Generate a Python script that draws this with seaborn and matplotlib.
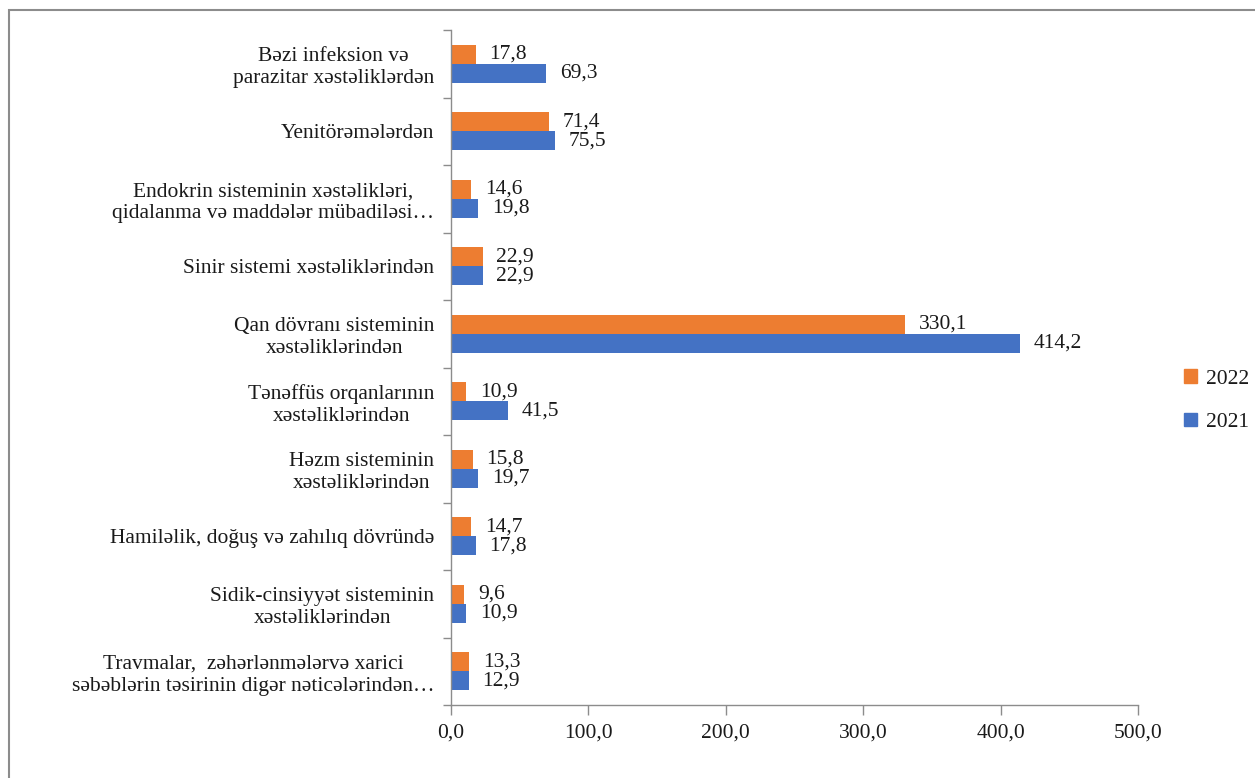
import matplotlib
matplotlib.use("Agg")
import matplotlib.pyplot as plt
import numpy as np
import pandas as pd
import seaborn as sns
from matplotlib.ticker import FuncFormatter, FixedLocator

CATEGORIES = [
    "Bəzi infeksion və\nparazitar xəstəliklərdən",
    "Yenitörəmələrdən",
    "Endokrin sisteminin xəstəlikləri,\nqidalanma və maddələr mübadiləsi…",
    "Sinir sistemi xəstəliklərindən",
    "Qan dövranı sisteminin\nxəstəliklərindən",
    "Tənəffüs orqanlarının\nxəstəliklərindən",
    "Həzm sisteminin\nxəstəliklərindən",
    "Hamiləlik, doğuş və zahılıq dövründə",
    "Sidik-cinsiyyət sisteminin\nxəstəliklərindən",
    "Travmalar,  zəhərlənmələrvə xarici\nsəbəblərin təsirinin digər nəticələrindən…",
]
VALUES_2022 = [17.8, 71.4, 14.6, 22.9, 330.1, 10.9, 15.8, 14.7, 9.6, 13.3]
VALUES_2021 = [69.3, 75.5, 19.8, 22.9, 414.2, 41.5, 19.7, 17.8, 10.9, 12.9]
YEARS = ["2022", "2021"]
COLORS = {"2022": "#ED7D31", "2021": "#4472C4"}
X_TICKS = [0, 100, 200, 300, 400, 500]

sns.set_theme(style="white")
plt.rcParams["font.family"] = ["Liberation Serif", "DejaVu Serif"]

df = pd.DataFrame({
    "category": CATEGORIES * 2,
    "year": ["2022"] * len(CATEGORIES) + ["2021"] * len(CATEGORIES),
    "value": VALUES_2022 + VALUES_2021,
})

fig = plt.figure(figsize=(12.55, 7.78), dpi=100)
ax = fig.add_axes([0.3594, 0.0938, 0.5474, 0.8676])

# frame of the chart area, cut off on the right and bottom like the source
fig.add_artist(plt.Rectangle((9 / 1255, -0.1), 1.2, 1.1 - 10 / 778,
                             transform=fig.transFigure, fill=False,
                             edgecolor="#8c8c8c", linewidth=1.5))

sns.barplot(data=df, y="category", x="value", hue="year", hue_order=YEARS,
            order=CATEGORIES, palette=COLORS, width=0.56, orient="h",
            saturation=1, linewidth=0, ax=ax, legend=True)

text_color = "#1a1a1a"
axis_color = "#8c8c8c"
fs = 15.5

for cont in ax.containers:
    vals = [b.get_width() for b in cont]
    ax.bar_label(cont, labels=[f"{v:.1f}".replace(".", ",") for v in vals],
                 padding=10, fontsize=fs, color=text_color)

ax.set_xlim(0, 500)
ax.xaxis.set_major_locator(FixedLocator(X_TICKS))
ax.xaxis.set_major_formatter(FuncFormatter(lambda v, p: f"{v:.1f}".replace(".", ",")))
ax.set_xlabel("")
ax.set_ylabel("")

for side in ["top", "right"]:
    ax.spines[side].set_visible(False)
for side in ["left", "bottom"]:
    ax.spines[side].set_color(axis_color)
    ax.spines[side].set_linewidth(1.0)

ax.tick_params(axis="x", which="major", length=7, width=1, color=axis_color,
               direction="out", pad=6, labelsize=fs, labelcolor=text_color,
               bottom=True)
ax.tick_params(axis="y", which="major", length=0, pad=12, labelsize=fs,
               labelcolor=text_color, left=True)
ax.yaxis.set_minor_locator(FixedLocator(np.arange(-0.5, len(CATEGORIES), 1.0)))
ax.tick_params(axis="y", which="minor", length=6, width=1, color=axis_color,
               direction="out", left=True)
for lbl in ax.get_yticklabels():
    lbl.set_multialignment("center")

ax.get_legend().remove()
handles = [plt.Rectangle((0, 0), 1, 1, color=COLORS[y]) for y in YEARS]
fig.legend(handles, YEARS, loc="center left", bbox_to_anchor=(0.928, 0.485),
           frameon=False, fontsize=fs, handlelength=0.6, handleheight=0.6,
           handletextpad=0.4, labelspacing=1.1, labelcolor=text_color)

fig.savefig("out.png", dpi=100)
